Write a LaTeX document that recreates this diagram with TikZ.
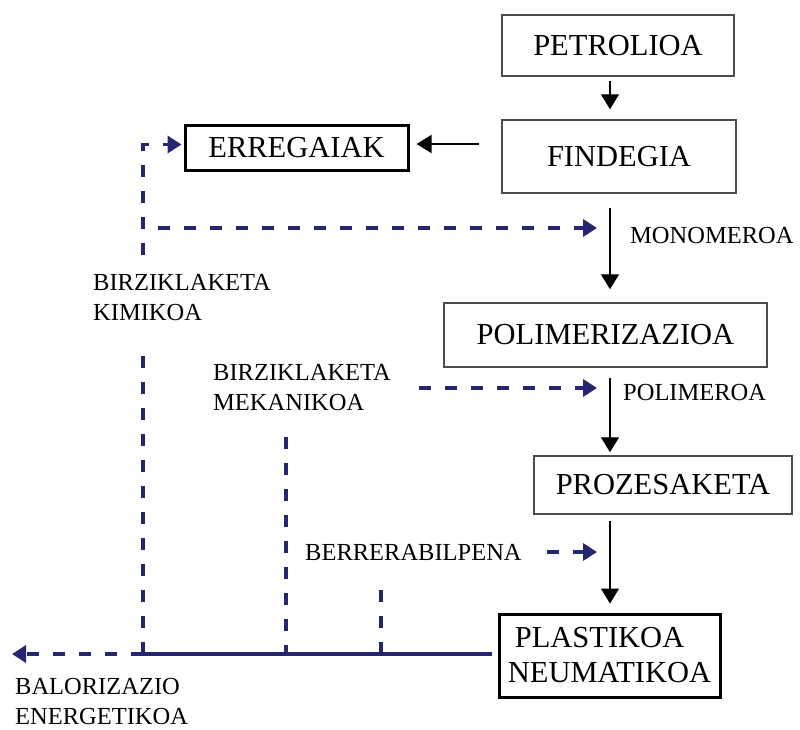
\documentclass[tikz,border=0pt]{standalone}
\usepackage{fontspec}
\setmainfont{Liberation Serif}
\usetikzlibrary{arrows.meta}
\definecolor{navyline}{RGB}{38,38,112}
\tikzset{
	box/.style={draw=black!70, line width=1.5pt, inner sep=0pt, font=\fontsize{30.5}{35}\selectfont},
	boldbox/.style={box, draw=black, line width=3pt},
	lbl/.style={inner sep=0pt, anchor=west, align=left, font=\fontsize{24.5}{30}\selectfont},
	flow/.style={line width=1.4pt, -{Triangle[length=15pt,width=18pt]}},
	recyc/.style={navyline, line width=3.5pt, dash pattern=on 12pt off 14pt, -{Triangle[length=14pt,width=17pt]}},
	recycline/.style={navyline, line width=3.5pt, dash pattern=on 12pt off 14pt},
	waste/.style={navyline, line width=4.5pt}
}

\begin{document}
\begin{tikzpicture}[x=1pt,y=-1pt]
			%%%%% START %%%%%
			\useasboundingbox (0,0) rectangle (800,729);
			
			\coordinate (spine) at (610,0);
			\coordinate (junction) at (143,654);
			
			\node[box, minimum width=232pt, minimum height=61pt] (petrolioa) at (618,45.5) {PETROLIOA};
			\node[box, minimum width=234pt, minimum height=73pt] (findegia) at (619,156.5) {FINDEGIA};
			\node[boldbox, minimum width=223pt, minimum height=45pt] (erregaiak) at (296.5,147.5) {ERREGAIAK};
			\node[box, minimum width=323pt, minimum height=64pt] (polimerizazioa) at (605.5,335) {POLIMERIZAZIOA};
			\node[box, minimum width=258pt, minimum height=58pt] (prozesaketa) at (663,485) {PROZESAKETA};
			\node[boldbox, minimum width=221pt, minimum height=83pt, align=left] (plastikoa) at (609.5,655.5) {\hspace{7pt}PLASTIKOA\\NEUMATIKOA};
			
			\node[lbl] (monomeroa) at (630,236) {MONOMEROA};
			\node[lbl] (polimeroa) at (623,392) {POLIMEROA};
			\node[lbl] (kimikoa) at (93,298) {BIRZIKLAKETA\\KIMIKOA};
			\node[lbl] (mekanikoa) at (213,387.5) {BIRZIKLAKETA\\MEKANIKOA};
			\node[lbl] (berrerabilpena) at (305,552) {BERRERABILPENA};
			\node[lbl] (balorizazio) at (15,701) {BALORIZAZIO\\ENERGETIKOA};
			
			% main flow
			\draw[flow, shorten <=4pt, shorten >=10pt] (petrolioa.south -| spine) -- (findegia.north -| spine);
			\draw[flow, shorten <=14pt, shorten >=13pt] (findegia.south -| spine) -- (polimerizazioa.north -| spine);
			\draw[flow, shorten <=10pt, shorten >=3pt] (polimerizazioa.south -| spine) -- (prozesaketa.north -| spine);
			\draw[flow, shorten <=6pt, shorten >=9pt] (prozesaketa.south -| spine) -- (plastikoa.north -| spine);
			\draw[flow, shorten <=22pt, shorten >=7pt] ([yshift=12.5pt]findegia.west) -- ([yshift=12.5pt]findegia.west -| erregaiak.east);
			
			% recycling paths
			\coordinate (kimtop) at (143,255);
			\coordinate (kimbot) at (143,355);
			\coordinate (monstart) at (158,228);
			\coordinate (monend) at (597,228);
			\coordinate (mekend) at (597,388);
			\coordinate (mekbot) at (286,437);
			\coordinate (berbot) at (381,590);
			\coordinate (berend) at (597,552);
			\coordinate (balend) at (12,654);
			
			\draw[waste, shorten <=6pt] (plastikoa.west |- junction) -- (junction);
			\draw[recyc] (junction) -- (balend);
			\draw[recycline] (junction) -- (kimbot);
			\draw[recyc, shorten >=2pt] (kimtop) |- ([yshift=3pt]erregaiak.west);
			\draw[recyc] (monstart) -- (monend);
			\draw[recyc, shorten <=28pt] (mekanikoa.east |- mekend) -- (mekend);
			\draw[recycline] (mekbot) -- (mekbot |- junction);
			\draw[recycline] (berbot) -- (berbot |- junction);
			\draw[recyc, shorten <=25pt] (berrerabilpena.east) -- (berend);
			
			%%%%% END %%%%%
\end{tikzpicture}
\end{document}
